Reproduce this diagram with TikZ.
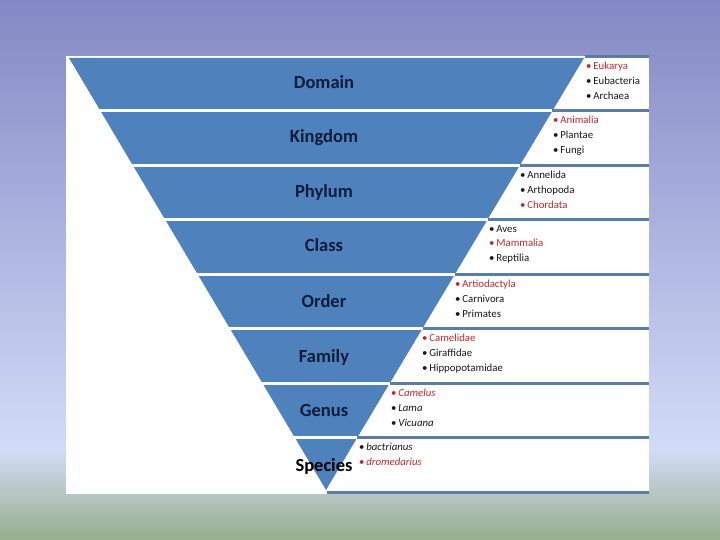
\documentclass[tikz,border=0pt]{standalone}
\usepackage{fontspec}
\setmainfont{Carlito}
\definecolor{bgtop}{HTML}{8488C4}
\definecolor{bgmid}{HTML}{D2DCF8}
\definecolor{bgbot}{HTML}{96AE8C}
\definecolor{bandblue}{HTML}{4F81BD}
\definecolor{rulecol}{HTML}{5B7CA3}
\definecolor{labcol}{HTML}{0E1C3C}
\definecolor{redtxt}{HTML}{C0282E}
\tikzset{
  bandlabel/.style={anchor=base, inner sep=0pt, text=labcol,
    font=\fontsize{18.5bp}{22bp}\selectfont\bfseries},
  listtext/.style={anchor=north west, inner sep=0pt, align=left, text=black!90,
    font=\fontsize{10.8bp}{14.7bp}\selectfont},
  sepline/.style={draw=white, line width=3bp},
  ruleline/.style={draw=rulecol, line width=3bp}
}
\newcommand{\redit}[1]{\textcolor{redtxt}{#1}}
\begin{document}
\begin{tikzpicture}[x=1bp,y=-1bp]
\useasboundingbox (0,0) rectangle (720,540);
% background
\shade[top color=bgtop, bottom color=bgmid] (0,0) rectangle (720,450);
\shade[top color=bgmid, bottom color=bgbot] (0,450) rectangle (720,540);
% white panel
\fill[white] (66,56) rectangle (649,494);
% triangle
\coordinate (tl) at (69,58);
\coordinate (tr) at (584,58);
\coordinate (apex) at (326,490);
\fill[bandblue] (tl) -- (tr) -- (apex) -- cycle;
% band separators and rules
\draw[ruleline] (585,57) -- (649,57);
\foreach \y in {111,165.5,219.5,274,328.5,383,437.5}{
  \pgfmathsetmacro{\xl}{69+0.595*(\y-58)}
  \pgfmathsetmacro{\xr}{584-0.597*(\y-58)}
  \draw[sepline] (\xl-2,\y) -- (\xr+1,\y);
  \draw[ruleline] (\xr,\y) -- (649,\y);
}
\draw[ruleline] (327,492.5) -- (649,492.5);
% labels
\node[bandlabel] (lab1) at (324,89) {Domain};
\node[bandlabel] (lab2) at (324,143) {Kingdom};
\node[bandlabel] (lab3) at (324,198) {Phylum};
\node[bandlabel] (lab4) at (324,252) {Class};
\node[bandlabel] (lab5) at (324,307) {Order};
\node[bandlabel] (lab6) at (324,362) {Family};
\node[bandlabel] (lab7) at (324,416) {Genus};
\node[bandlabel, text=black] (lab8) at (324,471) {Species};
% lists
\node[listtext] (list1) at (586,62) {\redit{•\,Eukarya}\\•\,Eubacteria\\•\,Archaea};
\node[listtext] (list2) at (553,116) {\redit{•\,Animalia}\\•\,Plantae\\•\,Fungi};
\node[listtext] (list3) at (520,171) {•\,Annelida\\•\,Arthopoda\\\redit{•\,Chordata}};
\node[listtext] (list4) at (489,225) {•\,Aves\\\redit{•\,Mammalia}\\•\,Reptilia};
\node[listtext] (list5) at (455,280) {\redit{•\,Artiodactyla}\\•\,Carnivora\\•\,Primates};
\node[listtext] (list6) at (422,334) {\redit{•\,Camelidae}\\•\,Giraffidae\\•\,Hippopotamidae};
\node[listtext] (list7) at (391,389) {\redit{•\,\textit{Camelus}}\\•\,\textit{Lama}\\•\,\textit{Vicuana}};
\node[listtext] (list8) at (359,443) {•\,\textit{bactrianus}\\\redit{•\,\textit{dromedarius}}};
\end{tikzpicture}
\end{document}
